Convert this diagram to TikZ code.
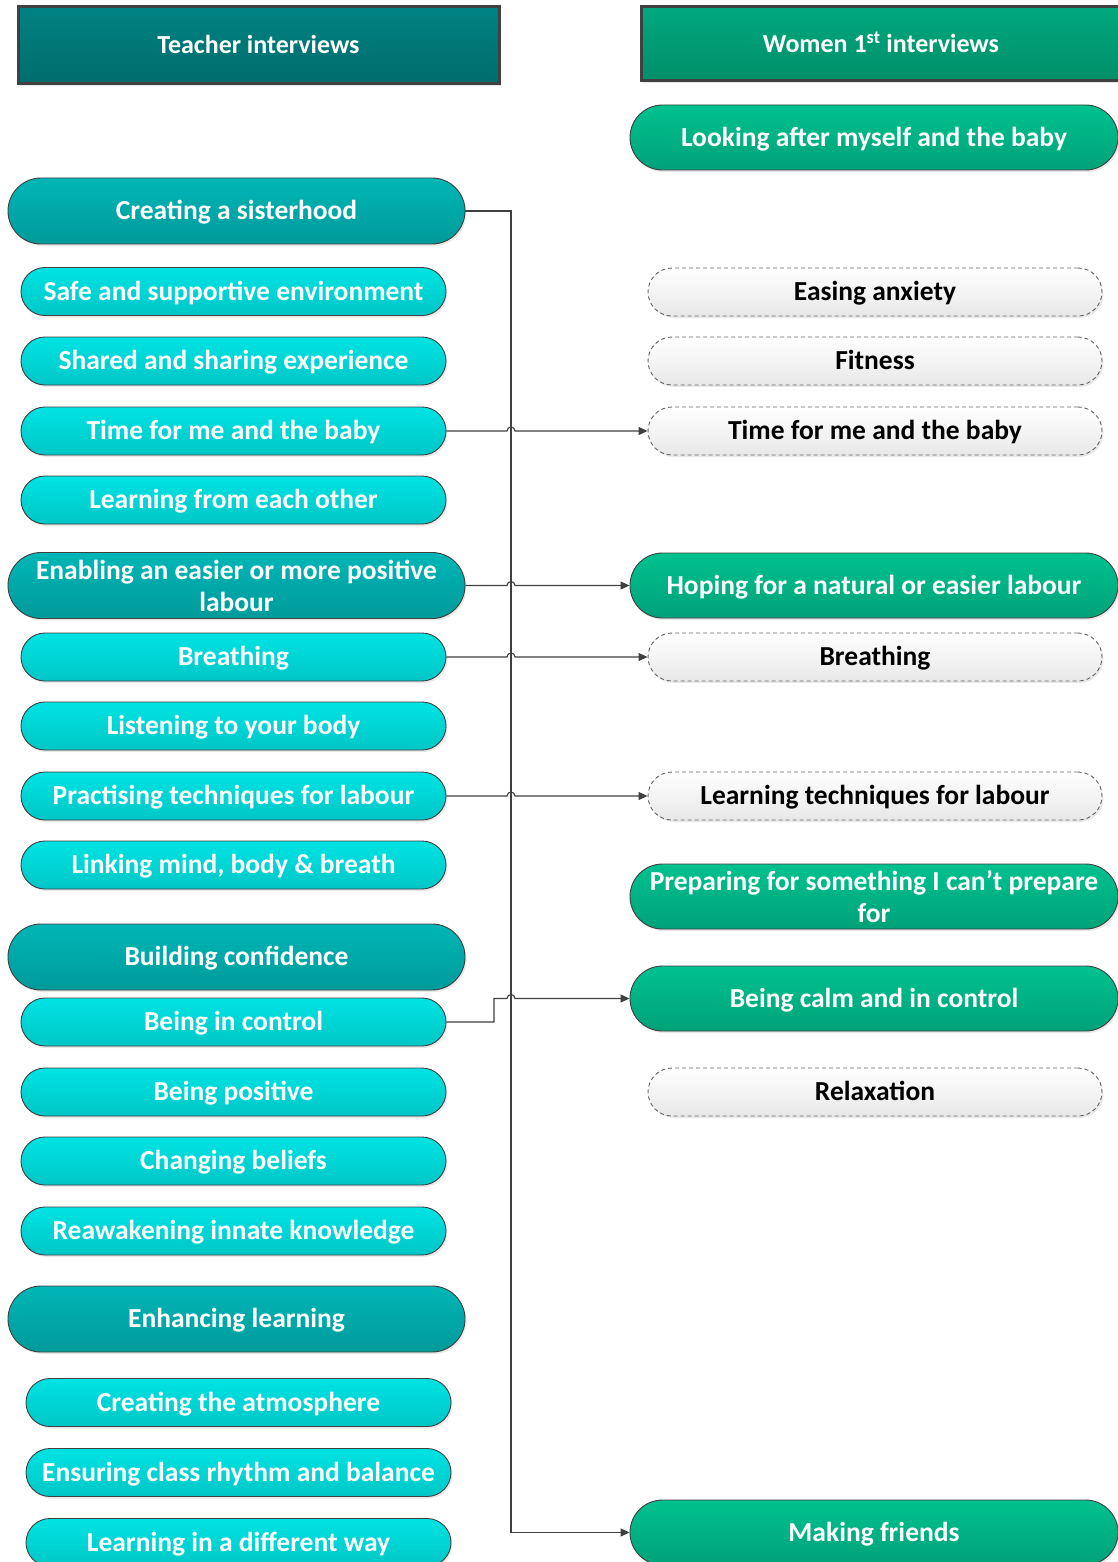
\documentclass[tikz,border=0pt]{standalone}
\usepackage{fontspec}
\setmainfont{Carlito}
\usetikzlibrary{arrows.meta,shadows,calc}
\definecolor{edge}{HTML}{404040}
\newcommand\mynodefont{\bfseries\fontsize{27.5}{32}\selectfont}
\newcommand\myheadfont{\bfseries\fontsize{26}{32}\selectfont}
\begin{document}
\begin{tikzpicture}[x=1pt,y=1pt,
  base/.style={font=\mynodefont, align=center, inner sep=0pt, text height=17.8pt, text depth=0pt,
    drop shadow={shadow xshift=1.5pt,shadow yshift=-2pt,opacity=0.18}},
  two/.style={text height={}, text depth={}},
  header/.style={base, font=\myheadfont, text height=16.8pt, draw=edge, line width=3pt, text=white, rectangle},
  hl/.style={header, top color=cHLt, bottom color=cHLb},
  hr/.style={header, top color=cHRt, bottom color=cHRb},
  green/.style={base, draw=edge, line width=0.9pt, text=white, rounded corners=32.5pt,
    minimum width=488pt, minimum height=65pt,
    top color=cGt, bottom color=cGb},
  dark/.style={base, draw=edge, line width=0.9pt, text=white, rounded corners=33pt,
    minimum width=457pt, minimum height=66pt,
    top color=cDt, bottom color=cDb},
  cyan/.style={base, draw=edge, line width=0.9pt, text=white, rounded corners=24pt,
    minimum width=425pt, minimum height=48pt,
    top color=cCt, bottom color=cCb},
  light/.style={base, draw=edge!80, dashed, dash pattern=on 4pt off 3pt, line width=0.9pt, text=black,
    rounded corners=24pt, minimum width=454pt, minimum height=48pt,
    top color=white, bottom color=cLb},
  conn/.style={draw=edge, line width=1.1pt, -{Triangle[length=9pt,width=8pt]}}
]
\definecolor{cHLt}{HTML}{008282}
\definecolor{cHLb}{HTML}{006C6C}
\definecolor{cHRt}{HTML}{00A87E}
\definecolor{cHRb}{HTML}{008F69}
\definecolor{cGt}{HTML}{00C18F}
\definecolor{cGb}{HTML}{00A278}
\definecolor{cDt}{HTML}{00B6B6}
\definecolor{cDb}{HTML}{009A9A}
\definecolor{cCt}{HTML}{00E3E3}
\definecolor{cCb}{HTML}{00C6C6}
\definecolor{cLb}{HTML}{E8E8E8}

\fill[white] (0,0) rectangle (1118,-1562);
\useasboundingbox (0,0) rectangle (1118,-1562);

% headers
\node[hl, minimum width=481pt, minimum height=77pt] (h1) at (258.5,-45.5) {Teacher interviews};
\node[hr, minimum width=479pt, minimum height=74pt] (h2) at (881,-44) {Women 1\textsuperscript{st} interviews};

% left column
\node[dark] (cs) at (236.5,-211) {Creating a sisterhood};
\node[cyan] (l1) at (233.5,-291.5) {Safe and supportive environment};
\node[cyan] (l2) at (233.5,-361) {Shared and sharing experience};
\node[cyan] (l3) at (233.5,-431) {Time for me and the baby};
\node[cyan] (l4) at (233.5,-500) {Learning from each other};
\node[dark, two] (en) at (236.5,-585.5) {Enabling an easier or more positive\\labour};
\node[cyan] (l5) at (233.5,-657) {Breathing};
\node[cyan] (l6) at (233.5,-726) {Listening to your body};
\node[cyan] (l7) at (233.5,-796) {Practising techniques for labour};
\node[cyan] (l8) at (233.5,-865) {Linking mind, body \& breath};
\node[dark] (bc) at (236.5,-957) {Building confidence};
\node[cyan] (l9) at (233.5,-1022) {Being in control};
\node[cyan] (l10) at (233.5,-1092) {Being positive};
\node[cyan] (l11) at (233.5,-1161) {Changing beliefs};
\node[cyan] (l12) at (233.5,-1231) {Reawakening innate knowledge};
\node[dark] (el) at (236.5,-1319) {Enhancing learning};
\node[cyan] (l13) at (238.5,-1402.5) {Creating the atmosphere};
\node[cyan] (l14) at (238.5,-1472.5) {Ensuring class rhythm and balance};
\node[cyan] (l15) at (238.5,-1542.5) {Learning in a different way};

% right column
\node[green] (r1) at (874,-137.5) {Looking after myself and the baby};
\node[light] (r2) at (875,-292) {Easing anxiety};
\node[light] (r3) at (875,-361) {Fitness};
\node[light] (r4) at (875,-431) {Time for me and the baby};
\node[green] (r5) at (874,-585.5) {Hoping for a natural or easier labour};
\node[light] (r6) at (875,-657) {Breathing};
\node[light] (r7) at (875,-796) {Learning techniques for labour};
\node[green, two] (r8) at (874,-896.5) {Preparing for something I can’t prepare\\for};
\node[green] (r9) at (874,-998.5) {Being calm and in control};
\node[light] (r10) at (875,-1092) {Relaxation};
\node[green] (r11) at (874,-1532.5) {Making friends};

% connectors
\coordinate (vx) at (511,0);
\coordinate (jx) at (494,0);
\draw[conn] (cs.east) -- (cs.east -| vx) |- (r11.west);
\draw[conn] (l3.east) -- ([xshift=-4pt]l3.east -| vx) arc (180:0:4pt) -- (r4.west);
\draw[conn] (en.east) -- ([xshift=-4pt]en.east -| vx) arc (180:0:4pt) -- (r5.west);
\draw[conn] (l5.east) -- ([xshift=-4pt]l5.east -| vx) arc (180:0:4pt) -- (r6.west);
\draw[conn] (l7.east) -- ([xshift=-4pt]l7.east -| vx) arc (180:0:4pt) -- (r7.west);
\draw[conn] (l9.east) -- (l9.east -| jx) |- ([xshift=-4pt]r9.west -| vx) arc (180:0:4pt) -- (r9.west);
\end{tikzpicture}
\end{document}
